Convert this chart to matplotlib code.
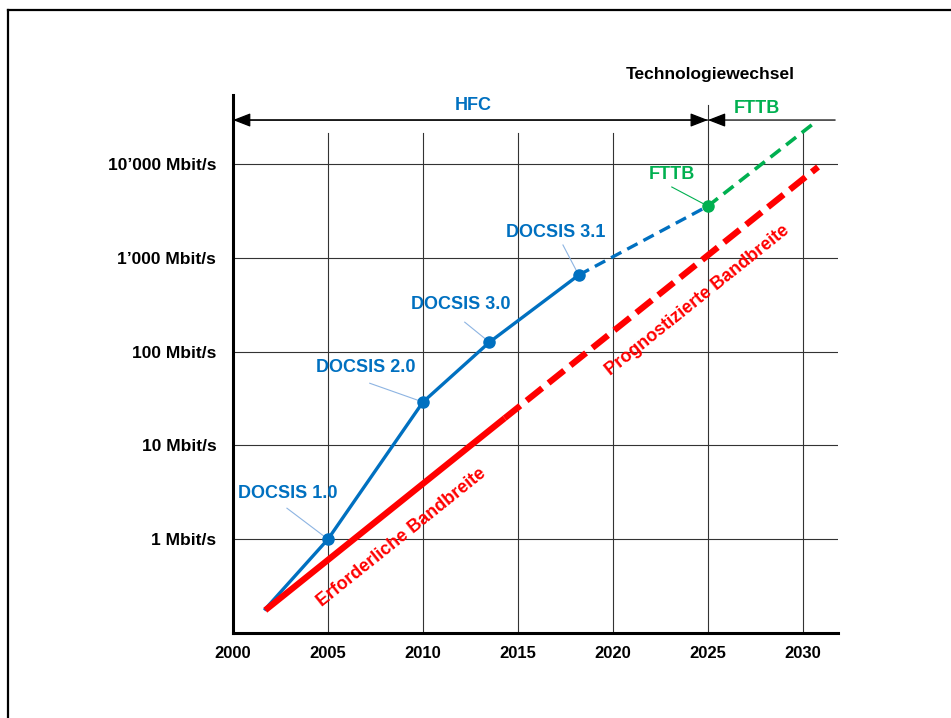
import matplotlib
matplotlib.use('Agg')
import matplotlib.pyplot as plt
from matplotlib.lines import Line2D
from matplotlib.ticker import NullLocator
import numpy as np

# HFC evolution (DOCSIS generations)
hfc_years = [2001.7, 2005, 2010, 2013.5, 2018.2]
hfc_rate = [0.18, 1, 29, 126, 655]
hfc_proj_years = [2018.2, 2025]
hfc_proj_rate = [655, 3560]
fttb_years = [2025, 2030.6]
fttb_rate = [3560, 27400]

# required / forecast bandwidth
req_years = [2001.7, 2014.3]
req_rate = [0.175, 19.5]
prog_years = [2014.3, 2030.8]
prog_rate = [19.5, 9300]

docsis_labels = ['DOCSIS 1.0', 'DOCSIS 2.0', 'DOCSIS 3.0', 'DOCSIS 3.1']
docsis_years = [2005, 2010, 2013.5, 2018.2]
docsis_rate = [1, 29, 126, 655]

x_ticks = [2000, 2005, 2010, 2015, 2020, 2025, 2030]
y_ticks = [1, 10, 100, 1000, 10000]
y_labels = ['1 Mbit/s', '10 Mbit/s', '100 Mbit/s', '1\u2019000 Mbit/s', '10\u2019000 Mbit/s']

BLUE = '#0070C0'
GREEN = '#00B050'
RED = '#FF0000'
LEAD = '#8DB4E2'

plt.rcParams['font.family'] = ['Liberation Sans', 'DejaVu Sans']
plt.rcParams['font.weight'] = 'bold'

fig = plt.figure(figsize=(9.51, 7.18), dpi=100)
ax = fig.add_axes([233/951, 1-633/718, (838-233)/951, (633-95)/718])
ax.set_yscale('log')
ax.set_xlim(2000, 2031.85)
ax.set_ylim(0.1, 10**4.736)

# grid
for yv in y_ticks:
    ax.axhline(yv, color='#333333', lw=0.8, zorder=1)
for xv in x_ticks[1:]:
    top = 10**4.63 if xv == 2025 else 10**4.33
    ax.plot([xv, xv], [0.1, top], color='#333333', lw=0.8, zorder=1)

# lines
ax.plot(hfc_years, hfc_rate, color=BLUE, lw=2.4, zorder=3)
ax.plot(hfc_proj_years, hfc_proj_rate, color=BLUE, lw=2.4, dashes=(3.5, 2.0), zorder=3)
ax.plot(fttb_years, fttb_rate, color=GREEN, lw=2.6, dashes=(3.5, 2.0), zorder=3)
ax.plot(req_years, req_rate, color=RED, lw=4.5, zorder=4, solid_capstyle='butt')
ax.plot(prog_years, prog_rate, color=RED, lw=4.5, dashes=(3.2, 1.3), zorder=4)
ax.plot(docsis_years, docsis_rate, 'o', color=BLUE, ms=8, zorder=5)
ax.plot([2025], [3560], 'o', color=GREEN, ms=8, zorder=5)

# DOCSIS labels with leader lines
lab_pos = [(2002.89, 3.1), (2007.0, 68), (2012.0, 321), (2017.0, 1880)]
lead_start = [(2002.84, 2.14), (2007.2, 46), (2012.2, 206), (2017.37, 1370)]
for lab, (tx, ty), (lx, ly), xm, ym in zip(docsis_labels, lab_pos, lead_start,
                                          docsis_years, docsis_rate):
    ax.text(tx, ty, lab, color=BLUE, fontsize=13, fontweight='bold',
            ha='center', va='center', zorder=6)
    ax.plot([lx, xm], [ly, ym], color=LEAD, lw=0.8, zorder=2)

ax.text(2023.1, 7820, 'FTTB', color=GREEN, fontsize=13, fontweight='bold',
        ha='center', va='center', zorder=6)
ax.plot([2023.1, 2025], [5690, 3560], color=GREEN, lw=0.8, zorder=2)

# rotated labels along red line
ang = np.degrees(np.arctan(0.801))
ax.text(2008.9, 1.05, 'Erforderliche Bandbreite', color=RED, fontsize=13,
        fontweight='bold', rotation=ang, rotation_mode='anchor',
        ha='center', va='center', zorder=6)
ax.text(2024.47, 354, 'Prognostizierte Bandbreite', color=RED, fontsize=13,
        fontweight='bold', rotation=ang, rotation_mode='anchor',
        ha='center', va='center', zorder=6)

# technology arrows
ya = 10**4.469
ap = dict(arrowstyle='-|>,head_length=0.9,head_width=0.35', color='black',
          lw=0.9, shrinkA=0, shrinkB=0, mutation_scale=12)
ax.annotate('', xy=(2000, ya), xytext=(2025, ya), arrowprops=ap)
ax.annotate('', xy=(2025, ya), xytext=(2000, ya), arrowprops=ap)
ax.annotate('', xy=(2025, ya), xytext=(2031.7, ya), arrowprops=ap)
ax.text(2012.63, 10**4.619, 'HFC', color=BLUE, fontsize=13, fontweight='bold',
        ha='center', va='center')
ax.text(2027.58, 10**4.597, 'FTTB', color=GREEN, fontsize=13, fontweight='bold',
        ha='center', va='center')
fig.text(710/951, 1-75/718, 'Technologiewechsel', fontsize=12.5,
         fontweight='bold', ha='center', va='center')

# axes styling
for s in ['top', 'right']:
    ax.spines[s].set_visible(False)
for s in ['left', 'bottom']:
    ax.spines[s].set_linewidth(2.2)
ax.set_xticks(x_ticks)
ax.set_xticklabels([str(x) for x in x_ticks], fontsize=12, fontweight='bold')
ax.set_yticks(y_ticks)
ax.set_yticklabels(y_labels, fontsize=12.5, fontweight='bold')
ax.yaxis.set_minor_locator(NullLocator())
ax.tick_params(axis='both', length=0)
ax.tick_params(axis='y', pad=12)
ax.tick_params(axis='x', pad=9)

# outer frame
fig.add_artist(Line2D([8/951, 1], [1-10/718, 1-10/718], color='black', lw=1.6,
                      transform=fig.transFigure))
fig.add_artist(Line2D([8/951, 8/951], [0, 1-10/718], color='black', lw=1.6,
                      transform=fig.transFigure))

fig.savefig('out.png', dpi=100)
